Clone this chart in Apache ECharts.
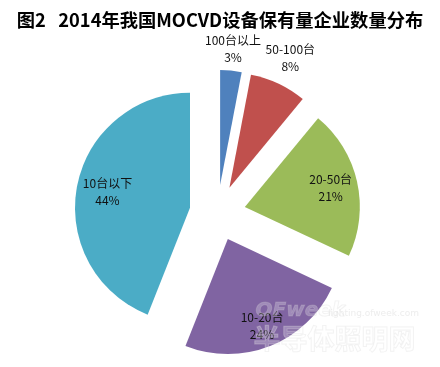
<!DOCTYPE html>
<html>
<head>
<meta charset="utf-8">
<script src="https://cdn.jsdelivr.net/npm/echarts@6/dist/echarts.min.js"></script>
<style>html,body{margin:0;padding:0;background:#fff;}#c{width:440px;height:367px;}</style>
</head>
<body>
<div id="c"></div>
<script>
const categories = ['100台以上', '50-100台', '20-50台', '10-20台', '10台以下'];
const values = [3, 8, 21, 24, 44];
const colors = ['#4F81BD', '#C0504D', '#9BBB59', '#8064A2', '#4BACC6'];
const titleText = '图2   2014年我国MOCVD设备保有量企业数量分布';

const CX = 217.5, CY = 213, R = 115, OFFSET = 28;
// distance of each label's centre from the pie centre
const labelDist = [162, 168, 113, 118, 109];

const labelStyle = {
  fontFamily: 'Noto Sans CJK SC',
  fontSize: 12,
  lineHeight: 17,
  color: '#111',
  align: 'center',
  verticalAlign: 'middle'
};

const mainSeries = {
  type: 'pie',
  center: [CX, CY],
  radius: [0, R],
  startAngle: 90,
  clockwise: true,
  selectedMode: 'multiple',
  selectedOffset: OFFSET,
  emphasis: {disabled: true},
  select: {itemStyle: {borderWidth: 0}},
  label: {show: false},
  labelLine: {show: false},
  data: categories.map((c, i) => ({
    name: c, value: values[i], selected: true,
    itemStyle: {color: colors[i], borderWidth: 0}
  }))
};

// transparent overlay pies that only carry the labels, one per slice
const labelSeries = labelDist.map((d, k) => ({
  type: 'pie',
  center: [CX, CY],
  radius: [0, 2 * d],
  startAngle: 90,
  clockwise: true,
  silent: true,
  z: 5,
  emphasis: {disabled: true},
  itemStyle: {color: 'rgba(0,0,0,0)', borderWidth: 0},
  label: Object.assign({position: 'inside', formatter: '{b}\n{c}%'}, labelStyle),
  labelLine: {show: false},
  data: categories.map((c, i) => ({
    name: c, value: values[i],
    label: {show: i === k}
  }))
}));

const chart = echarts.init(document.getElementById('c'), null, {renderer: 'canvas'});
chart.setOption({
  animation: false,
  backgroundColor: '#fff',
  title: {
    text: titleText,
    left: 'center',
    top: 6,
    textStyle: {fontFamily: 'Noto Sans CJK SC', fontWeight: 'bold', fontSize: 18.3, color: '#000'}
  },
  graphic: [
    {type: 'text', left: 255, top: 300, silent: true, z: 100,
      style: {text: 'OFweek', fontFamily: 'DejaVu Sans', fontWeight: 'bold', fontStyle: 'italic', fontSize: 20,
        fill: 'rgba(255,255,255,0.25)', stroke: 'rgba(200,200,200,0.25)', lineWidth: 1}},
    {type: 'text', left: 328, top: 309, silent: true, z: 100,
      style: {text: 'lighting.ofweek.com', fontFamily: 'DejaVu Sans', fontSize: 9,
        fill: 'rgba(225,225,225,0.6)'}},
    {type: 'text', left: 253, top: 325, silent: true, z: 100,
      style: {text: '半导体照明网', fontFamily: 'Noto Sans CJK SC', fontWeight: 'bold', fontSize: 27,
        fill: 'rgba(255,255,255,0.25)', stroke: 'rgba(215,215,215,0.35)', lineWidth: 1}}
  ],
  series: [mainSeries].concat(labelSeries)
});
</script>
</body>
</html>
